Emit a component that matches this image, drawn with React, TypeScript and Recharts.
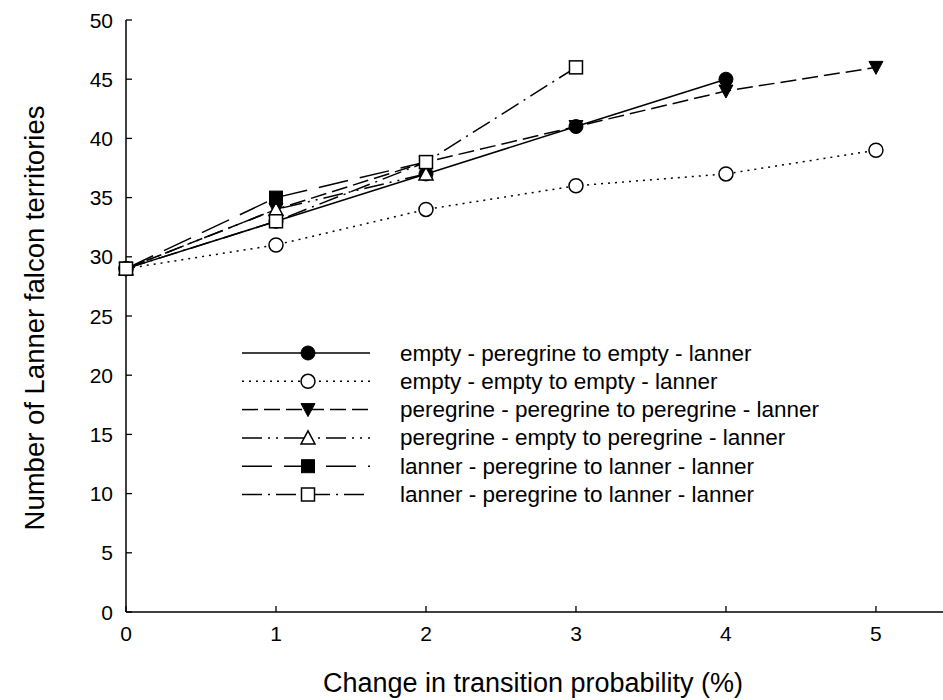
import React from 'react';
import { LineChart, Line, XAxis, YAxis, Customized } from 'recharts';

const xValues = [0, 1, 2, 3, 4, 5];
const emptyPeregrine = [29, 33, 37, 41, 45, null];
const emptyEmpty = [29, 31, 34, 36, 37, 39];
const peregrinePeregrine = [29, 34, 38, 41, 44, 46];
const peregrineEmpty = [29, 34, 37, null, null, null];
const lannerPeregrineA = [29, 35, 38, null, null, null];
const lannerPeregrineB = [29, 33, 38, 46, null, null];
const xTicks = [0, 1, 2, 3, 4, 5];
const yTicks = [0, 5, 10, 15, 20, 25, 30, 35, 40, 45, 50];
const legendLabels = [
  'empty - peregrine to empty - lanner',
  'empty - empty to empty - lanner',
  'peregrine - peregrine to peregrine - lanner',
  'peregrine - empty to peregrine - lanner',
  'lanner - peregrine to lanner - lanner',
  'lanner - peregrine to lanner - lanner',
];

const data = xValues.map((x, i) => ({
  x,
  s1: emptyPeregrine[i],
  s2: emptyEmpty[i],
  s3: peregrinePeregrine[i],
  s4: peregrineEmpty[i],
  s5: lannerPeregrineA[i],
  s6: lannerPeregrineB[i],
}));

const FONT = 'Liberation Sans, Arial, sans-serif';

type Kind = 'circleFilled' | 'circleOpen' | 'triDown' | 'triUp' | 'squareFilled' | 'squareOpen';

const Marker = ({ kind, cx, cy }: { kind: Kind; cx: number; cy: number }) => {
  switch (kind) {
    case 'circleFilled':
      return <circle cx={cx} cy={cy} r={7} fill="#000" stroke="#000" strokeWidth={1} />;
    case 'circleOpen':
      return <circle cx={cx} cy={cy} r={7} fill="#fff" stroke="#000" strokeWidth={1.5} />;
    case 'triDown':
      return <polygon points={`${cx - 7},${cy - 6} ${cx + 7},${cy - 6} ${cx},${cy + 7}`} fill="#000" stroke="#000" />;
    case 'triUp':
      return <polygon points={`${cx - 7},${cy + 6} ${cx + 7},${cy + 6} ${cx},${cy - 7}`} fill="#fff" stroke="#000" strokeWidth={1.5} />;
    case 'squareFilled':
      return <rect x={cx - 6.5} y={cy - 6.5} width={13} height={13} fill="#000" stroke="#000" />;
    case 'squareOpen':
      return <rect x={cx - 6.5} y={cy - 6.5} width={13} height={13} fill="#fff" stroke="#000" strokeWidth={1.5} />;
  }
  return null;
};

const series: { key: string; kind: Kind; dash?: string }[] = [
  { key: 's1', kind: 'circleFilled' },
  { key: 's2', kind: 'circleOpen', dash: '2 5' },
  { key: 's3', kind: 'triDown', dash: '16 6' },
  { key: 's4', kind: 'triUp', dash: '20 6 2 6 2 6' },
  { key: 's5', kind: 'squareFilled', dash: '30 12' },
  { key: 's6', kind: 'squareOpen', dash: '20 6 2 6' },
];

const makeDot = (kind: Kind) => (props: any) => {
  const { cx, cy, value, index } = props;
  if (value == null || cx == null || cy == null) return <g key={index} />;
  return <Marker key={index} kind={kind} cx={cx} cy={cy} />;
};

const YTick = (props: any) => {
  const { y, payload } = props;
  return (
    <g>
      <line x1={126} x2={132} y1={y} y2={y} stroke="#000" strokeWidth={1.3} />
      <text x={113} y={y} dy={7.5} textAnchor="end" fontSize={21} fontFamily={FONT} fill="#000">
        {payload.value}
      </text>
    </g>
  );
};

const XTick = (props: any) => {
  const { x, payload } = props;
  return (
    <g>
      <line x1={x} x2={x} y1={612} y2={606} stroke="#000" strokeWidth={1.3} />
      <text x={x} y={641} textAnchor="middle" fontSize={21} fontFamily={FONT} fill="#000">
        {payload.value}
      </text>
    </g>
  );
};

const LegendBox = () => {
  const top = 353;
  const step = 28.3;
  return (
    <g>
      {series.map((s, i) => {
        const y = top + i * step;
        return (
          <g key={s.key}>
            <line x1={242} x2={370} y1={y} y2={y} stroke="#000" strokeWidth={1.5} strokeDasharray={s.dash} />
            <Marker kind={s.kind} cx={308} cy={y} />
            <text x={400} y={y} dy={7.5} fontSize={22.5} fontFamily={FONT} fill="#000">
              {legendLabels[i]}
            </text>
          </g>
        );
      })}
    </g>
  );
};

export default function App() {
  return (
    <div style={{ position: 'absolute', left: 0, top: 0, background: '#fff' }}>
      <LineChart width={943} height={700} data={data} margin={{ top: 20, right: 0, bottom: 0, left: 0 }}>
        <XAxis
          dataKey="x"
          type="number"
          domain={[0, 5.447]}
          ticks={xTicks}
          height={88}
          tickLine={false}
          tick={<XTick />}
          axisLine={{ stroke: '#000', strokeWidth: 1.5 }}
        />
        <YAxis
          type="number"
          domain={[0, 50]}
          ticks={yTicks}
          width={126}
          tickLine={false}
          tick={<YTick />}
          axisLine={{ stroke: '#000', strokeWidth: 1.5 }}
        />
        {series.map((s) => (
          <Line
            key={s.key}
            dataKey={s.key}
            type="linear"
            stroke="#000"
            strokeWidth={1.5}
            strokeDasharray={s.dash}
            dot={makeDot(s.kind)}
            activeDot={false}
            isAnimationActive={false}
            connectNulls={false}
          />
        ))}
        <Customized component={LegendBox} />
        <text x={44} y={318} transform="rotate(-90 44 318)" textAnchor="middle" fontSize={27.5} fontFamily={FONT} fill="#000">
          Number of Lanner falcon territories
        </text>
        <text x={533} y={692} textAnchor="middle" fontSize={27} fontFamily={FONT} fill="#000">
          Change in transition probability (%)
        </text>
      </LineChart>
    </div>
  );
}
